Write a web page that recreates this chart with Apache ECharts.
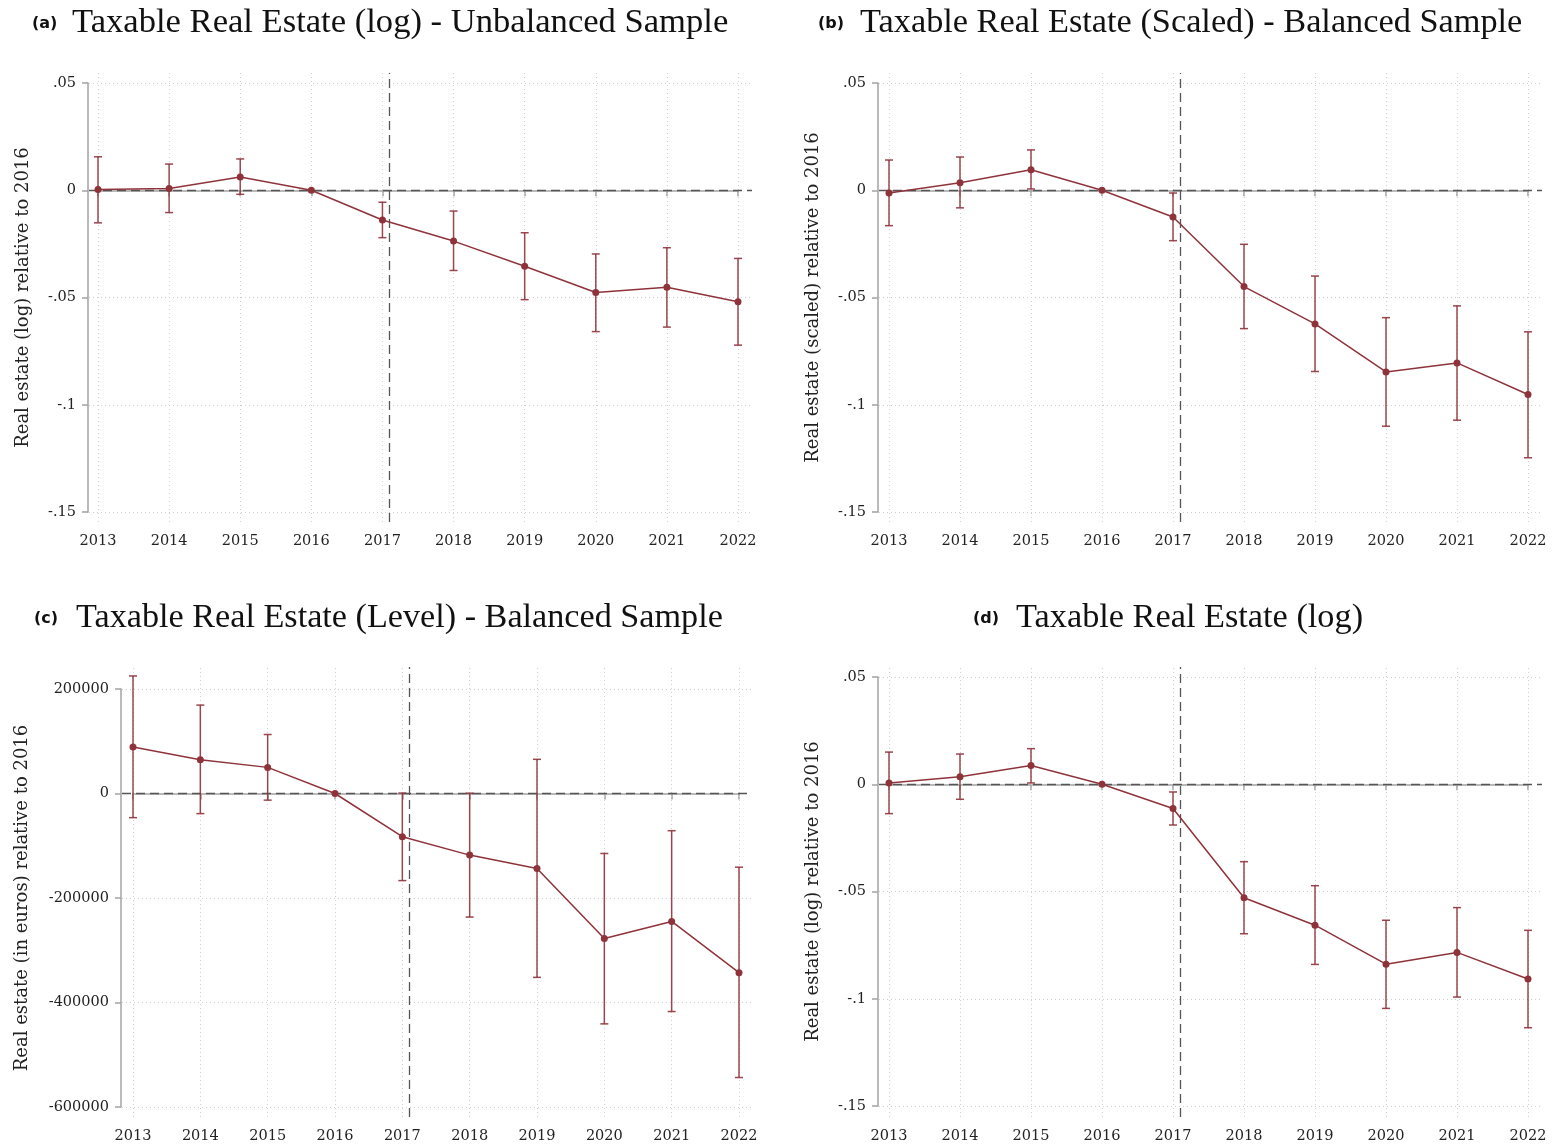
<!DOCTYPE html>
<html><head><meta charset="utf-8">
<script src="https://cdn.jsdelivr.net/npm/echarts@6/dist/echarts.min.js"></script>
<style>html,body{margin:0;padding:0;background:#fff}#c{width:1553px;height:1146px}</style>
</head><body><div id="c"></div>
<script>
// ---------- data ----------
const years = [2013, 2014, 2015, 2016, 2017, 2018, 2019, 2020, 2021, 2022];
const eventLine = 2017.1;

// (a) Taxable Real Estate (log) - Unbalanced Sample
const estA = [0.0003, 0.0008, 0.0062, 0, -0.0139, -0.0237, -0.0354, -0.0477, -0.0452, -0.0520];
const loA  = [-0.0152, -0.0104, -0.0019, null, -0.0221, -0.0374, -0.0510, -0.0659, -0.0638, -0.0722];
const hiA  = [0.0156, 0.0122, 0.0146, null, -0.0056, -0.0097, -0.0198, -0.0297, -0.0268, -0.0318];

// (b) Taxable Real Estate (Scaled) - Balanced Sample
const estB = [-0.0013, 0.0035, 0.0096, 0, -0.0125, -0.0449, -0.0623, -0.0847, -0.0805, -0.0952];
const loB  = [-0.0165, -0.0082, 0.0006, null, -0.0235, -0.0645, -0.0845, -0.1100, -0.1072, -0.1247];
const hiB  = [0.0141, 0.0155, 0.0188, null, -0.0013, -0.0252, -0.0400, -0.0594, -0.0539, -0.0660];

// (c) Taxable Real Estate (Level) - Balanced Sample
const estC = [89200, 64800, 50000, 0, -82700, -117900, -143600, -277500, -244800, -342900];
const loC  = [-46200, -38500, -12700, null, -166700, -236500, -351900, -440900, -417300, -543600];
const hiC  = [225000, 169200, 112900, null, 800, 600, 65400, -114800, -71200, -141000];

// (d) Taxable Real Estate (log)
const estD = [0.0006, 0.0035, 0.0087, 0, -0.0113, -0.0529, -0.0657, -0.0839, -0.0784, -0.0908];
const loD  = [-0.0137, -0.0070, 0.0006, null, -0.0190, -0.0697, -0.0840, -0.1045, -0.0992, -0.1135];
const hiD  = [0.0150, 0.0141, 0.0166, null, -0.0036, -0.0361, -0.0473, -0.0634, -0.0575, -0.0681];

// tick labels
const yTicksSmall  = [-0.15, -0.1, -0.05, 0, 0.05];
const yLabelsSmall = ['-.15', '-.1', '-.05', '0', '.05'];
const yTicksLevel  = [-600000, -400000, -200000, 0, 200000];
const yLabelsLevel = ['-600000', '-400000', '-200000', '0', '200000'];

const panelLetters = ['(a)', '(b)', '(c)', '(d)'];
const panelTitles = [
  'Taxable Real Estate (log) - Unbalanced Sample',
  'Taxable Real Estate (Scaled) - Balanced Sample',
  'Taxable Real Estate (Level) - Balanced Sample',
  'Taxable Real Estate (log)'
];
const yNames = [
  'Real estate (log) relative to 2016',
  'Real estate (scaled) relative to 2016',
  'Real estate (in euros) relative to 2016',
  'Real estate (log) relative to 2016'
];

// ---------- style / layout ----------
const RED = '#8f333b';
const AXIS = '#a3a3a3';
const GRIDC = '#cfcfcf';
const REF = '#555555';
const SERIF = '"DejaVu Serif", serif';

// grid = tick range; outer = plot region (gridlines / reference lines extent)
const layout = [
  {grid:{left:98, top:83, width:640, height:429}, outer:{left:89, right:752, top:73, bottom:522},
   yOff:10, xOff:11, nameGap:56, letter:{x:32, y:24}, title:{x:72, y:23, size:34.6}},
  {grid:{left:889, top:83, width:639, height:429}, outer:{left:879, right:1542, top:73, bottom:522},
   yOff:11, xOff:11, nameGap:56, letter:{x:818, y:24}, title:{x:860, y:23, size:34.3}},
  {grid:{left:133, top:689, width:606, height:418}, outer:{left:122, right:752, top:667, bottom:1117},
   yOff:12, xOff:11, nameGap:90, letter:{x:34, y:619}, title:{x:76, y:618, size:34.2}},
  {grid:{left:889, top:677, width:639, height:429}, outer:{left:879, right:1542, top:667, bottom:1117},
   yOff:11, xOff:12, nameGap:56, letter:{x:973, y:619}, title:{x:1016, y:618, size:34.3}}
];

const panels = [
  {est:estA, lo:loA, hi:hiA, yMin:-0.15, yMax:0.05, yInt:0.05, ticks:yTicksSmall, labels:yLabelsSmall},
  {est:estB, lo:loB, hi:hiB, yMin:-0.15, yMax:0.05, yInt:0.05, ticks:yTicksSmall, labels:yLabelsSmall},
  {est:estC, lo:loC, hi:hiC, yMin:-600000, yMax:200000, yInt:200000, ticks:yTicksLevel, labels:yLabelsLevel},
  {est:estD, lo:loD, hi:hiD, yMin:-0.15, yMax:0.05, yInt:0.05, ticks:yTicksSmall, labels:yLabelsSmall}
];

function labelFor(ticks, labels, v) {
  let best = 0, bd = Infinity;
  ticks.forEach((t, i) => { const d = Math.abs(t - v); if (d < bd) { bd = d; best = i; } });
  return labels[best];
}

const grids = [], xAxes = [], yAxes = [];
const oGrids = [], oXAxes = [], oYAxes = [];
const series = [], graphics = [];
const N = panels.length;

panels.forEach((p, i) => {
  const L = layout[i];
  const g = L.grid, o = L.outer;
  const xMin = years[0], xMax = years[years.length - 1];
  grids.push(Object.assign({containLabel:false}, g));
  xAxes.push({
    type:'value', gridIndex:i, min:xMin, max:xMax, interval:1, offset:L.xOff,
    axisLine:{show:true, lineStyle:{color:AXIS, width:1.5}},
    axisTick:{show:true, length:6, lineStyle:{color:AXIS, width:1.5}},
    axisLabel:{color:'#222', fontFamily:SERIF, fontSize:14.5, margin:11, formatter:v => String(v)},
    splitLine:{show:false}
  });
  yAxes.push({
    type:'value', gridIndex:i, min:p.yMin, max:p.yMax, interval:p.yInt, offset:L.yOff,
    name:yNames[i], nameLocation:'middle', nameRotate:90, nameGap:L.nameGap,
    nameTextStyle:{color:'#222', fontFamily:SERIF, fontSize:18},
    axisLine:{show:true, lineStyle:{color:AXIS, width:1.5}},
    axisTick:{show:true, length:6, lineStyle:{color:AXIS, width:1.5}},
    axisLabel:{color:'#222', fontFamily:SERIF, fontSize:14.5, margin:12,
               formatter:v => labelFor(p.ticks, p.labels, v)},
    splitLine:{show:false}
  });

  // overlay grid covering the whole plot region, same scale as the tick-range grid
  const xPerPx = (xMax - xMin) / g.width;
  const yPerPx = (p.yMax - p.yMin) / g.height;
  const oxMin = xMin - (g.left - o.left) * xPerPx;
  const oxMax = xMax + (o.right - (g.left + g.width)) * xPerPx;
  const oyMax = p.yMax + (g.top - o.top) * yPerPx;
  const oyMin = p.yMin - (o.bottom - (g.top + g.height)) * yPerPx;
  oGrids.push({left:o.left, top:o.top, width:o.right - o.left, height:o.bottom - o.top, containLabel:false});
  oXAxes.push({type:'value', gridIndex:N + i, min:oxMin, max:oxMax, show:false});
  oYAxes.push({type:'value', gridIndex:N + i, min:oyMin, max:oyMax, show:false});
  const dotted = {color:GRIDC, type:[1,3], width:1};
  const dashed = {color:REF, type:[9,5], width:1.3};
  series.push({
    type:'line', xAxisIndex:N + i, yAxisIndex:N + i, z:1, silent:true,
    data:[[oxMin, oyMin]], showSymbol:false, lineStyle:{opacity:0},
    markLine:{
      silent:true, symbol:'none', label:{show:false}, animation:false, z:1,
      data:[
        ...p.ticks.filter(v => v !== 0).map(v => ({yAxis:v, lineStyle:dotted})),
        ...years.map(v => ({xAxis:v, lineStyle:dotted})),
        {yAxis:0, lineStyle:dashed},
        {xAxis:eventLine, lineStyle:dashed}
      ]
    }
  });

  // error bars
  const ebData = [];
  years.forEach((y, k) => { if (p.lo[k] != null && p.hi[k] != null) ebData.push([y, p.lo[k], p.hi[k]]); });
  series.push({
    type:'custom', xAxisIndex:i, yAxisIndex:i, data:ebData, z:6, silent:true,
    renderItem:(params, api) => {
      const x = api.value(0);
      const a = api.coord([x, api.value(2)]);
      const b = api.coord([x, api.value(1)]);
      const hw = 4;
      const st = {stroke:RED, lineWidth:1.5, opacity:0.9};
      return {type:'group', children:[
        {type:'line', shape:{x1:a[0], y1:a[1], x2:b[0], y2:b[1]}, style:st},
        {type:'line', shape:{x1:a[0]-hw, y1:a[1], x2:a[0]+hw, y2:a[1]}, style:st},
        {type:'line', shape:{x1:b[0]-hw, y1:b[1], x2:b[0]+hw, y2:b[1]}, style:st}
      ]};
    }
  });
  // point estimates
  series.push({
    type:'line', xAxisIndex:i, yAxisIndex:i, z:7, silent:true, clip:false,
    data: years.map((y, k) => [y, p.est[k]]),
    symbol:'circle', symbolSize:7, showSymbol:true,
    lineStyle:{color:RED, width:1.5}, itemStyle:{color:RED}
  });
  graphics.push({type:'text', x:L.letter.x, y:L.letter.y,
    style:{text:panelLetters[i], fontFamily:'"DejaVu Sans", sans-serif', fontWeight:'bold', fontSize:16,
           fill:'#111', textVerticalAlign:'middle', textAlign:'left'}});
  graphics.push({type:'text', x:L.title.x, y:L.title.y,
    style:{text:panelTitles[i], fontFamily:'"Liberation Serif", serif', fontSize:L.title.size,
           fill:'#111', textVerticalAlign:'middle', textAlign:'left'}});
});

const chart = echarts.init(document.getElementById('c'), null, {renderer:'canvas'});
chart.setOption({
  animation:false,
  backgroundColor:'#fff',
  grid:grids.concat(oGrids), xAxis:xAxes.concat(oXAxes), yAxis:yAxes.concat(oYAxes), series:series,
  graphic:{elements:graphics}
});
</script>
</body></html>
